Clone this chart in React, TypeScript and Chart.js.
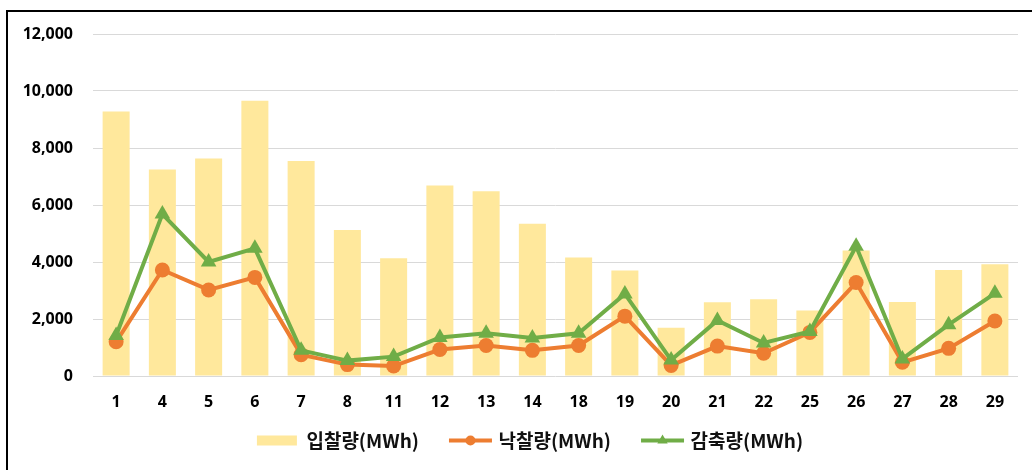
import React, { useEffect, useRef } from 'react';
import { Chart, registerables } from 'chart.js';

Chart.register(...registerables);

const categories = ['1', '4', '5', '6', '7', '8', '11', '12', '13', '14', '18', '19', '20', '21', '22', '25', '26', '27', '28', '29'];
const bidVolume = [9280, 7250, 7630, 9660, 7540, 5120, 4130, 6680, 6480, 5340, 4160, 3700, 1690, 2590, 2690, 2300, 4400, 2600, 3720, 3920];
const awardVolume = [1200, 3720, 3020, 3460, 750, 400, 350, 930, 1070, 900, 1070, 2100, 370, 1050, 800, 1530, 3280, 480, 970, 1930];
const reductionVolume = [1420, 5680, 4000, 4480, 900, 540, 680, 1350, 1500, 1330, 1500, 2880, 560, 1950, 1160, 1560, 4550, 600, 1800, 2900];
const seriesNames = ['입찰량(MWh)', '낙찰량(MWh)', '감축량(MWh)'];
const yMin = 0;
const yMax = 12000;
const yStep = 2000;

const BAR_COLOR = '#FFE89C';
const ORANGE = '#ED7D31';
const GREEN = '#70AD47';

const legendAdjustPlugin = {
  id: 'legendAdjust',
  afterLayout(chart: any) {
    const legend = chart.legend;
    if (!legend) return;
    legend.left = 42;
    legend.top -= 9;
    legend.bottom -= 9;
  },
  afterDraw(chart: any) {
    const legend = chart.legend;
    if (!legend || !legend.legendHitBoxes || !legend.legendItems) return;
    const ctx = chart.ctx;
    legend.legendItems.forEach((item: any, i: number) => {
      const ds = chart.data.datasets[item.datasetIndex];
      if (ds.type !== 'line') return;
      const box = legend.legendHitBoxes[i];
      const cy = box.top + box.height / 2;
      const x0 = box.left;
      const x1 = box.left + 43;
      ctx.save();
      ctx.strokeStyle = ds.borderColor;
      ctx.lineWidth = 4;
      ctx.beginPath();
      ctx.moveTo(x0, cy);
      ctx.lineTo(x1, cy);
      ctx.stroke();
      const cx = (x0 + x1) / 2;
      ctx.fillStyle = ds.borderColor;
      ctx.beginPath();
      if (ds.pointStyle === 'triangle') {
        const r = 6;
        ctx.moveTo(cx, cy - r);
        ctx.lineTo(cx + r * 0.866, cy + r / 2);
        ctx.lineTo(cx - r * 0.866, cy + r / 2);
        ctx.closePath();
      } else {
        ctx.arc(cx, cy, 5, 0, Math.PI * 2);
      }
      ctx.fill();
      ctx.restore();
    });
  },
};

export default function App() {
  const canvasRef = useRef<HTMLCanvasElement | null>(null);

  useEffect(() => {
    const canvas = canvasRef.current;
    if (!canvas) return;
    const chart = new Chart(canvas, {
      type: 'bar',
      data: {
        labels: categories,
        datasets: [
          {
            type: 'bar',
            label: seriesNames[0],
            data: bidVolume,
            backgroundColor: BAR_COLOR,
            borderWidth: 0,
            barPercentage: 0.584,
            categoryPercentage: 1,
            order: 3,
          } as any,
          {
            type: 'line',
            label: seriesNames[1],
            data: awardVolume,
            borderColor: ORANGE,
            backgroundColor: ORANGE,
            borderWidth: 4,
            pointStyle: 'circle',
            pointRadius: 7.5,
            pointBorderWidth: 0,
            pointBackgroundColor: ORANGE,
            tension: 0,
            order: 2,
          } as any,
          {
            type: 'line',
            label: seriesNames[2],
            data: reductionVolume,
            borderColor: GREEN,
            backgroundColor: GREEN,
            borderWidth: 4,
            pointStyle: 'triangle',
            pointRadius: 9,
            pointBorderWidth: 0,
            pointBackgroundColor: GREEN,
            tension: 0,
            order: 1,
          } as any,
        ],
      },
      options: {
        responsive: false,
        animation: false,
        devicePixelRatio: 1,
        layout: { padding: { left: 0, right: 14, top: 34, bottom: 1 } },
        scales: {
          x: {
            grid: { display: false, drawTicks: false },
            border: { display: false },
            ticks: {
              color: '#000',
              padding: 17,
              font: { family: "'Open Sans', sans-serif", size: 16, weight: 'bold' },
            },
            afterFit(scale: any) {
              scale.height = 34;
            },
          },
          y: {
            min: yMin,
            max: yMax,
            grid: { color: '#D9D9D9', lineWidth: 1, drawTicks: false },
            border: { display: false },
            ticks: {
              stepSize: yStep,
              color: '#000',
              padding: 20,
              font: { family: "'Open Sans', sans-serif", size: 16, weight: 'bold' },
              callback: (v: any) => Number(v).toLocaleString('en-US'),
            },
            afterFit(scale: any) {
              scale.width = 93;
            },
          },
        },
        plugins: {
          tooltip: { enabled: false },
          legend: {
            position: 'bottom',
            labels: {
              boxWidth: 40,
              boxHeight: 10,
              padding: 30,
              color: '#111',
              sort: (a: any, b: any) => a.datasetIndex - b.datasetIndex,
              font: { family: "'Noto Sans CJK KR', 'Open Sans', sans-serif", size: 19, weight: 'bold' },
              generateLabels(c: any) {
                const items = (Chart.defaults.plugins.legend.labels as any).generateLabels(c);
                items.forEach((it: any) => {
                  const ds = c.data.datasets[it.datasetIndex];
                  if (ds.type === 'line') {
                    it.fillStyle = 'rgba(0,0,0,0)';
                    it.strokeStyle = 'rgba(0,0,0,0)';
                    it.lineWidth = 0;
                  }
                });
                return items;
              },
            },
          },
        },
      } as any,
      plugins: [legendAdjustPlugin],
    });
    return () => chart.destroy();
  }, []);

  return (
    <div style={{ position: 'fixed', left: 0, top: 0, width: 1032, height: 470, overflow: 'hidden', background: '#fff' }}>
      <div
        style={{
          position: 'absolute',
          left: 6,
          top: 10,
          width: 1100,
          height: 500,
          border: '2px solid #000',
          boxSizing: 'border-box',
        }}
      />
      <canvas ref={canvasRef} width={1032} height={470} style={{ position: 'absolute', left: 0, top: 0 }} />
    </div>
  );
}
